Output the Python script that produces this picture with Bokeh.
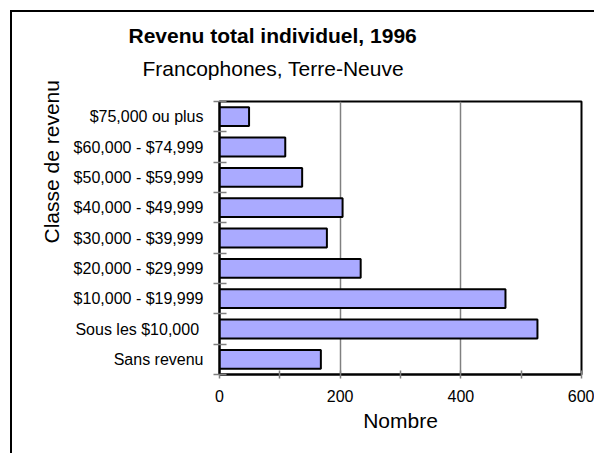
from bokeh.plotting import figure
from bokeh.models import Title, FixedTicker, Range1d, ColumnDataSource
from bokeh.embed import file_html
from bokeh.resources import INLINE

# ---- data ----
categories = ["Sans revenu", "Sous les  $10,000", "$10,000 - $19,999",
              "$20,000 - $29,999", "$30,000 - $39,999", "$40,000 - $49,999",
              "$50,000 - $59,999", "$60,000 - $74,999", "$75,000 ou plus"]
values = [168, 527, 474, 234, 178, 204, 137, 109, 49]
x_ticks = [0, 200, 400, 600]
x_minor_ticks = [100, 300, 500]
title_text = "Revenu total individuel, 1996"
subtitle_text = "Francophones, Terre-Neuve"
x_label = "Nombre"
y_label = "Classe de revenu"

FONT = "Liberation Sans"
positions = [i + 0.5 for i in range(len(categories))]
boundaries = list(range(len(categories) + 1))

W, H = 594, 453
FL, FR, FT, FB = 219, 581, 101, 374   # frame edges in canvas pixels

p = figure(width=W, height=H, output_backend="svg", toolbar_location=None,
           x_range=Range1d(0, 600), y_range=Range1d(0, len(categories)),
           min_border_left=FL, min_border_right=W - FR, min_border_top=FT,
           min_border_bottom=H - FB, title=title_text)

src = ColumnDataSource(dict(y=positions, right=values, cat=categories))
p.hbar(y="y", right="right", left=0, height=0.62, source=src,
       fill_color="#AAAAFF", line_color="black", line_width=2)

# blank spacer between the frame and the subtitle
p.add_layout(Title(text=" ", text_font=FONT, text_font_size="1px",
                   text_color="white", standoff=11), "above")

# titles
p.title.text_font = FONT
p.title.text_font_size = "21px"
p.title.text_font_style = "bold"
p.title.text_color = "black"
p.title.align = "left"
p.title.offset = -91
p.title.standoff = 0
p.add_layout(Title(text=subtitle_text, text_font=FONT, text_font_size="21px",
                   text_font_style="normal", text_color="black",
                   align="left", offset=-77, standoff=16), "above")
p.add_layout(Title(text=y_label, text_font=FONT, text_font_size="21px",
                   text_font_style="normal", text_color="black",
                   align="left", offset=131, standoff=16), "left")

# x axis
xa = p.below[0]
xa.ticker = FixedTicker(ticks=x_ticks, minor_ticks=x_minor_ticks)
xa.axis_line_color = "black"
xa.axis_line_width = 2
xa.major_tick_line_color = "#808080"
xa.minor_tick_line_color = "#808080"
xa.major_tick_line_width = 1.5
xa.minor_tick_line_width = 1.5
xa.major_tick_in = 4
xa.major_tick_out = 4
xa.minor_tick_in = 4
xa.minor_tick_out = 4
xa.major_label_text_font = FONT
xa.major_label_text_font_size = "16px"
xa.major_label_text_color = "black"
xa.major_label_standoff = 11
xa.axis_label = x_label
xa.axis_label_text_font = FONT
xa.axis_label_text_font_size = "21px"
xa.axis_label_text_font_style = "normal"
xa.axis_label_text_color = "black"
xa.axis_label_standoff = 4

# y axis
ya = p.left[0]
ya.ticker = FixedTicker(ticks=positions, minor_ticks=boundaries)
ya.major_label_overrides = {pos: c for pos, c in zip(positions, categories)}
ya.axis_line_color = "black"
ya.axis_line_width = 2
ya.major_tick_in = 0
ya.major_tick_out = 0
ya.minor_tick_in = 7
ya.minor_tick_out = 6
ya.minor_tick_line_color = "#808080"
ya.minor_tick_line_width = 1.5
ya.major_label_text_font = FONT
ya.major_label_text_font_size = "16px"
ya.major_label_text_color = "black"
ya.major_label_standoff = 10

# grid
p.ygrid.visible = False
p.xgrid.ticker = FixedTicker(ticks=[200, 400])
p.xgrid.grid_line_color = "#808080"
p.xgrid.grid_line_width = 1.5

p.outline_line_color = "black"
p.outline_line_width = 2
p.background_fill_color = "white"
p.border_fill_color = None

# outer frame of the chart (its right and bottom sides are cropped away)
p.styles = {
    "background-color": "white",
    "background-image": "linear-gradient(black, black), linear-gradient(black, black)",
    "background-size": "100% 2px, 2px 100%",
    "background-position": "10px 10px, 10px 10px",
    "background-repeat": "no-repeat",
}

open("out.html", "w").write(file_html(p, INLINE))
